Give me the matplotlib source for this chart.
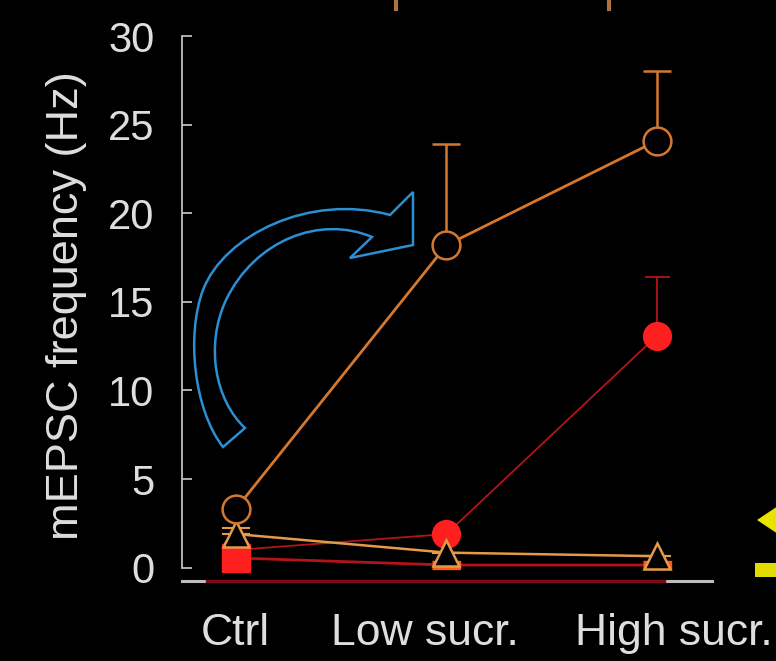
import matplotlib
matplotlib.use("Agg")
import matplotlib.pyplot as plt
from matplotlib.path import Path
from matplotlib.patches import PathPatch, Polygon, Rectangle
from matplotlib.lines import Line2D
from matplotlib.transforms import ScaledTranslation

# ---- data -------------------------------------------------------------
conditions = ["Ctrl", "Low sucr.", "High sucr."]

open_circle_mean = [3.3, 18.2, 24.1]
open_circle_err_up = [0.0, 5.7, 3.9]

filled_circle_mean = [1.0, 1.9, 13.1]
filled_circle_err_up = [0.0, 0.0, 3.3]

open_triangle_mean = [1.9, 0.85, 0.65]
open_triangle_err_up = [0.35, 0.0, 0.0]

square_mean = [0.55, 0.15, 0.15]

y_ticks = [0, 5, 10, 15, 20, 25, 30]

# ---- style ------------------------------------------------------------
W, H = 776, 661
plt.rcParams["font.family"] = ["Liberation Sans", "DejaVu Sans"]

ORANGE = "#d5782f"
TAN = "#e39a4a"
RED = "#ff1f1f"
DARK_RED = "#b3141a"
AXIS_GREY = "#bdbdbd"
TEXT = "#dedede"

fig = plt.figure(figsize=(W / 100, H / 100), dpi=100, facecolor="black")
ax = fig.add_axes([182 / W, 1 - 581 / H, (712 - 182) / W, (581 - 36) / H])
ax.set_facecolor("black")

x = list(range(len(conditions)))

# filled red circles
ax.errorbar(x, filled_circle_mean, yerr=[[0] * 3, filled_circle_err_up],
            color=DARK_RED, ecolor=DARK_RED, lw=1.3, elinewidth=1.3,
            capsize=9, capthick=1.3, zorder=2, fmt="none")
ax.plot(x, filled_circle_mean, color=DARK_RED, lw=1.3, zorder=2)
ax.plot(x, filled_circle_mean, ls="none", marker="o", ms=20,
        mfc=RED, mec=RED, zorder=2.1)

# squares (full square for the first condition, flat bars for the others)
ax.plot(x, square_mean, color=DARK_RED, lw=2.0, zorder=3)
flat_bar = [(-1, -0.3), (1, -0.3), (1, 0.3), (-1, 0.3)]
sq_markers = ["s", flat_bar, flat_bar]
sq_colors = [RED, "#ff5a14", "#ff5a14"]
for xi, yi, mk, c in zip(x, square_mean, sq_markers, sq_colors):
    ax.plot([xi], [yi], ls="none", marker=mk, ms=20,
            mfc=c, mec=c, zorder=3.1)

# open triangles
ax.errorbar(x, open_triangle_mean, yerr=[[0] * 3, open_triangle_err_up],
            fmt="none", ecolor=TAN, elinewidth=1.5, capsize=10,
            capthick=1.5, zorder=4)
ax.plot(x, open_triangle_mean, color=TAN, lw=1.8, marker="^", ms=19,
        mfc="black", mec=TAN, mew=1.8, zorder=4.1)

# open orange circles
ax.errorbar(x, open_circle_mean, yerr=[[0] * 3, open_circle_err_up],
            fmt="none", ecolor=ORANGE, elinewidth=1.8, capsize=10,
            capthick=1.8, zorder=5)
ax.plot(x, open_circle_mean, color=ORANGE, lw=2.0, marker="o", ms=20,
        mfc="black", mec=ORANGE, mew=1.8, zorder=5.1)

# ---- axes -------------------------------------------------------------
ax.set_xlim(-0.255, 2.26)
ax.set_ylim(-0.75, 30)
for s in ("top", "right"):
    ax.spines[s].set_visible(False)
ax.spines["left"].set_bounds(0, 30)
ax.spines["left"].set_color(AXIS_GREY)
ax.spines["left"].set_linewidth(1.3)
ax.spines["bottom"].set_color(AXIS_GREY)
ax.spines["bottom"].set_linewidth(2.2)
ax.axhline(-0.75, xmin=0.047, xmax=0.91, color="#7c0a16", lw=2.4,
           clip_on=False, zorder=6)

ax.set_yticks(y_ticks)
ax.set_yticklabels([str(v) for v in y_ticks])
ax.tick_params(axis="y", direction="in", length=7.5, width=1.3,
               color=AXIS_GREY, labelcolor=TEXT, labelsize=30, pad=20)
ax.set_xticks(x)
ax.set_xticklabels(conditions)
ax.tick_params(axis="x", length=0, labelcolor=TEXT, labelsize=32, pad=23)
for lab, dx in zip(ax.get_xticklabels(), [0, -22, 17]):
    lab.set_transform(lab.get_transform() +
                      ScaledTranslation(dx / 100, 0, fig.dpi_scale_trans))

ax.set_ylabel("mEPSC frequency (Hz)", color=TEXT, fontsize=32.5)
ax.yaxis.set_label_coords(-0.18, 0.506)

# ---- annotations --------------------------------------------------------
def fp(px, py):
    return (px / W, 1 - py / H)

arrow_pts = [
    (223, 447),
    (194, 410), (186, 335), (203, 290),
    (224, 235), (310, 193), (390, 215),
    (413, 192), (413, 245), (350, 258), (372, 237),
    (320, 215), (255, 240), (226, 300),
    (205, 345), (215, 400), (245, 428),
    (223, 447),
]
codes = [Path.MOVETO,
         Path.CURVE4, Path.CURVE4, Path.CURVE4,
         Path.CURVE4, Path.CURVE4, Path.CURVE4,
         Path.LINETO, Path.LINETO, Path.LINETO, Path.LINETO,
         Path.CURVE4, Path.CURVE4, Path.CURVE4,
         Path.CURVE4, Path.CURVE4, Path.CURVE4,
         Path.CLOSEPOLY]
arrow = PathPatch(Path([fp(*p) for p in arrow_pts], codes),
                  transform=fig.transFigure, facecolor="none",
                  edgecolor="#2b8fd2", lw=1.8, zorder=7)
fig.add_artist(arrow)

# fragments of markings at the top edge
for px in (396, 609):
    fig.add_artist(Line2D([px / W, px / W], [1, 1 - 9 / H],
                          transform=fig.transFigure, color="#d89050",
                          lw=3, alpha=0.8))

# yellow pointer at the right edge
fig.add_artist(Polygon([fp(757, 520), fp(778, 506), fp(778, 534)],
                       closed=True, transform=fig.transFigure,
                       facecolor="#e8e400", edgecolor="none"))
fig.add_artist(Rectangle(fp(755, 577), 23 / W, 14 / H,
                         transform=fig.transFigure,
                         facecolor="#e0dc00", edgecolor="none"))

fig.savefig("out.png", dpi=100, facecolor="black")
